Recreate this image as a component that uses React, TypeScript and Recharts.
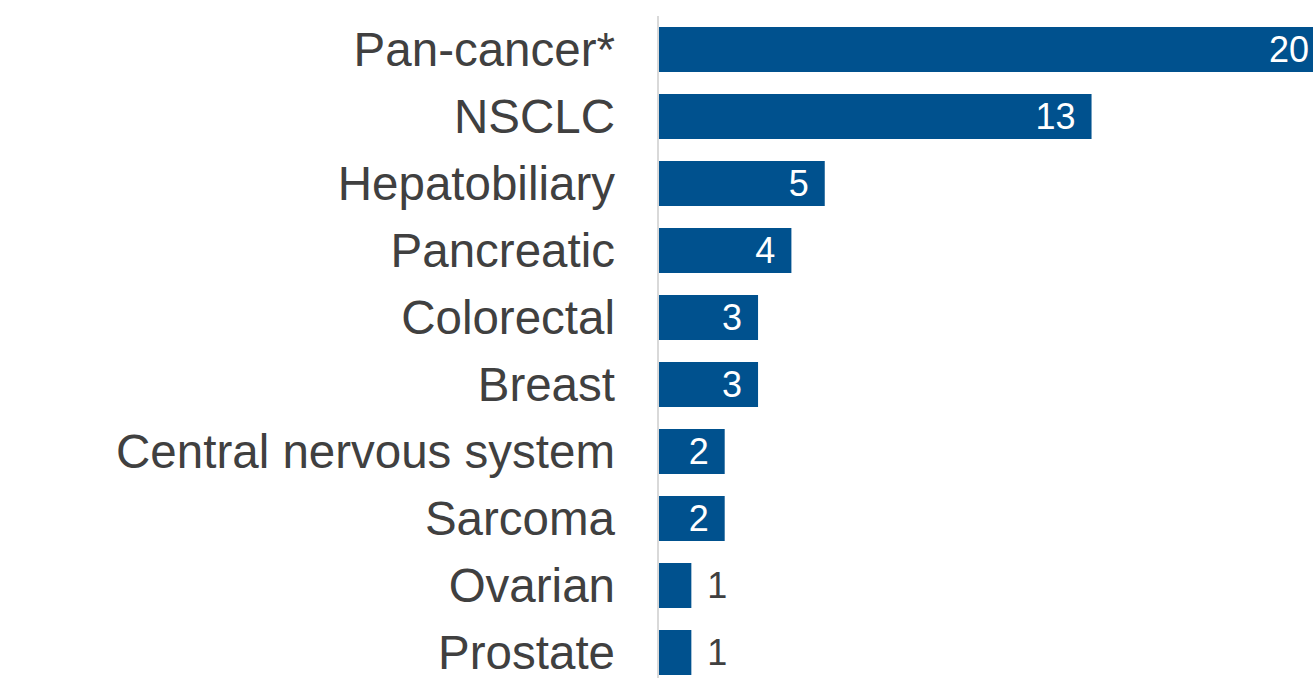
import React from "react";
import { BarChart, Bar, XAxis, YAxis, LabelList } from "recharts";

const categories = [
  "Pan-cancer*",
  "NSCLC",
  "Hepatobiliary",
  "Pancreatic",
  "Colorectal",
  "Breast",
  "Central nervous system",
  "Sarcoma",
  "Ovarian",
  "Prostate",
];
const counts = [20, 13, 5, 4, 3, 3, 2, 2, 1, 1];

const data = categories.map((name, i) => ({ name, value: counts[i] }));

const BAR_COLOR = "#00518E";
const TEXT_COLOR = "#404040";
const FONT = "'Liberation Sans', Arial, sans-serif";

const ValueLabel = (props: any) => {
  const { x, y, width, height, value } = props;
  const cy = y + height / 2;
  if (value >= 2) {
    return (
      <text
        x={x + width - 16}
        y={cy}
        textAnchor="end"
        dominantBaseline="central"
        fill="#ffffff"
        fontSize={36}
        fontFamily={FONT}
      >
        {value}
      </text>
    );
  }
  return (
    <text
      x={x + width + 26}
      y={cy}
      textAnchor="middle"
      dominantBaseline="central"
      fill={TEXT_COLOR}
      fontSize={36}
      fontFamily={FONT}
    >
      {value}
    </text>
  );
};

export default function App() {
  return (
    <div
      style={{
        position: "absolute",
        left: 0,
        top: 0,
        width: 1313,
        height: 678,
        overflow: "hidden",
        background: "#ffffff",
      }}
    >
      <BarChart
        width={1325}
        height={700}
        data={data}
        layout="vertical"
        margin={{ top: 16, right: 0, bottom: 14, left: 0 }}
        barSize={45}
      >
        <XAxis type="number" domain={[0, 20]} hide />
        <YAxis
          type="category"
          dataKey="name"
          width={658}
          axisLine={{ stroke: "#D9D9D9", strokeWidth: 2 }}
          tickLine={false}
          tickMargin={37}
          interval={0}
          tick={{ fill: TEXT_COLOR, fontSize: 47.5, fontFamily: FONT }}
        />
        <Bar dataKey="value" fill={BAR_COLOR} isAnimationActive={false}>
          <LabelList dataKey="value" content={<ValueLabel />} />
        </Bar>
      </BarChart>
    </div>
  );
}
